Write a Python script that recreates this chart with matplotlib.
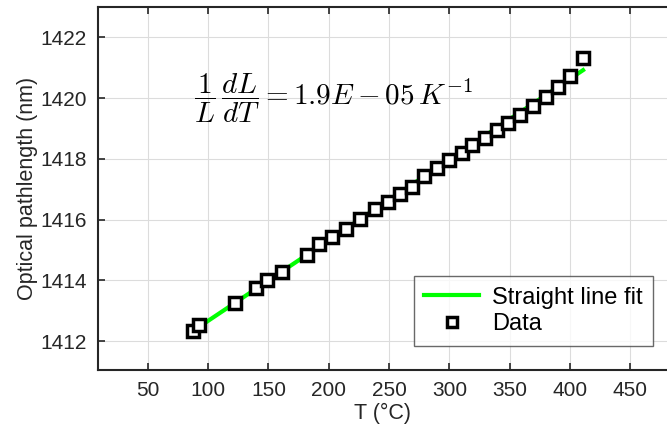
import numpy as np
import matplotlib
matplotlib.use("Agg")
import matplotlib.pyplot as plt

plt.rcParams['font.family'] = ['Liberation Sans', 'DejaVu Sans']
plt.rcParams['mathtext.fontset'] = 'cm'

# Data
temperature = [87.4, 92.4, 122.2, 139.6, 148.8, 161.3, 182.0, 192.0, 202.7, 214.3,
               225.9, 238.4, 249.1, 259.1, 269.0, 279.0, 289.7, 299.7, 310.4, 318.7,
               329.5, 339.4, 348.6, 358.5, 369.3, 380.1, 390.0, 400.0, 410.8]
pathlength = [1412.33, 1412.52, 1413.25, 1413.74, 1414.00, 1414.26, 1414.85, 1415.21,
              1415.44, 1415.70, 1416.03, 1416.36, 1416.59, 1416.85, 1417.08, 1417.44,
              1417.70, 1417.97, 1418.20, 1418.46, 1418.69, 1418.95, 1419.18, 1419.44,
              1419.74, 1420.03, 1420.36, 1420.72, 1421.31]
x_ticks = [50, 100, 150, 200, 250, 300, 350, 400, 450]
y_ticks = [1412, 1414, 1416, 1418, 1420, 1422]
equation = r'$\dfrac{1}{L}\,\dfrac{dL}{dT} = 1.9E-05\,K^{-1}$'

T = np.array(temperature)
P = np.array(pathlength)
coef = np.polyfit(T, P, 1)
T_fit = np.array([T.min(), T.max()])
P_fit = np.polyval(coef, T_fit)

fig = plt.figure(figsize=(6.67, 4.37), dpi=100)
ax = fig.add_axes([98/667, 1 - 370/437, 1 - 98/667, (370 - 7)/437])

ax.plot(T_fit, P_fit, color='#00ff00', lw=3, label='Straight line fit', zorder=3)
ax.plot(T, P, ls='none', marker='s', ms=9, mfc='white', mec='black', mew=2.5,
        label='Data', zorder=4)

ax.set_xlim(8.7, 480.4)
ax.set_ylim(1411.05, 1423.0)
ax.set_xticks(x_ticks)
ax.set_yticks(y_ticks)
ax.grid(True, color='#dcdcdc', lw=0.8)
ax.set_axisbelow(True)
ax.tick_params(direction='in', length=5, width=1.2, labelsize=15, colors='#262626',
               top=True, right=False, pad=8)
for s in ['left', 'bottom', 'top']:
    ax.spines[s].set_color('#262626')
    ax.spines[s].set_linewidth(1.5)
ax.spines['right'].set_visible(False)

ax.set_xlabel('T (\u00b0C)', fontsize=15.5, color='#262626', labelpad=2)
ax.set_ylabel('Optical pathlength (nm)', fontsize=15.5, color='#262626', labelpad=2)

ax.text(88, 1420.0, equation, fontsize=21, ha='left', va='center', color='black')

leg = ax.legend(loc='lower right', fontsize=17, frameon=True, fancybox=False,
                edgecolor='#444444', handlelength=2.3, handletextpad=0.55,
                borderpad=0.45, labelspacing=0.2, borderaxespad=0, markerscale=0.75)
leg.set_bbox_to_anchor((653/667, 1 - 346/437), transform=fig.transFigure)
leg.get_frame().set_linewidth(1.0)

fig.savefig('out.png', dpi=100)
